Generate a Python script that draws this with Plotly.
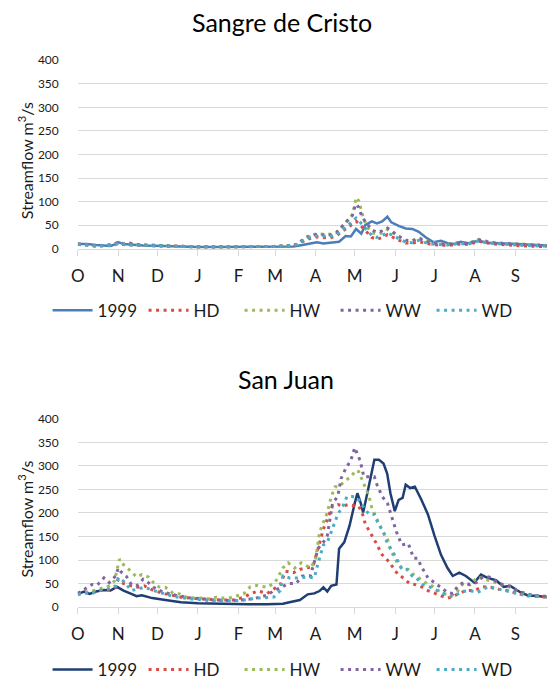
import plotly.graph_objects as go

# ---------------- data ----------------
month_days = [0, 31, 61, 92, 123, 151, 182, 212, 243, 273, 304, 335]
month_labels = ["O", "N", "D", "J", "F", "M", "A", "M", "J", "J", "A", "S"]
series_names = ["1999", "HD", "HW", "WW", "WD"]

# Sangre de Cristo (top)
sdc_1999_days = [0, 7, 14, 21, 25, 29, 31, 35, 40, 50, 66, 74, 92, 110, 130, 150, 160, 165, 172, 178, 183, 188, 193,
                 200, 205, 209, 213, 217, 220, 225, 229, 233, 237, 240, 246, 251, 256, 261, 266, 272, 278, 283, 288,
                 293, 299, 306, 314, 321, 331, 341, 351, 359]
sdc_1999 = [10, 10, 8, 6, 6, 10, 14, 10, 9, 7, 6, 5, 4, 4, 4, 4, 4, 5, 8, 11, 14, 11, 13,
            15, 27, 26, 42, 32, 50, 58, 54, 58, 68, 56, 48, 43, 42, 36, 25, 14, 17, 12, 10,
            15, 12, 17, 13, 12, 10, 8, 7, 7]

sdc_scen_days = [0, 7, 14, 21, 28, 31, 35, 40, 45, 52, 60, 75, 90, 105, 120, 135, 150, 160, 168, 174, 178, 183, 188,
                 193, 198, 203, 207, 210, 212, 213, 215, 217, 219, 222, 225, 229, 233, 237, 241, 246, 251, 256, 261,
                 266, 271, 276, 283, 291, 299, 307, 311, 319, 329, 341, 354, 359]
sdc_hd = [10, 8, 6, 7, 9, 12, 9, 8, 8, 7, 6, 5, 4, 4, 4, 4, 5, 6, 9, 18, 22, 25, 24,
          23, 28, 38, 45, 52, 56, 58, 54, 48, 42, 32, 24, 20, 24, 30, 24, 18, 12, 12, 15,
          12, 9, 8, 7, 10, 9, 16, 13, 10, 8, 6, 5, 5]
sdc_hw = [10, 8, 6, 7, 10, 15, 11, 12, 9, 8, 7, 5, 4, 4, 5, 5, 5, 6, 10, 24, 29, 32, 31,
          31, 34, 48, 62, 71, 93, 109, 102, 83, 62, 45, 34, 31, 34, 41, 34, 24, 17, 17, 24,
          17, 13, 12, 10, 13, 12, 20, 17, 13, 12, 10, 8, 7]
sdc_ww = [10, 8, 6, 7, 9, 13, 10, 11, 9, 8, 7, 5, 4, 4, 4, 5, 5, 6, 9, 22, 27, 30, 29,
          29, 35, 50, 60, 70, 88, 95, 88, 72, 62, 50, 40, 35, 38, 44, 36, 26, 18, 17, 22,
          16, 12, 11, 9, 12, 11, 19, 16, 12, 11, 9, 7, 6]
sdc_wd = [9, 7, 6, 6, 8, 11, 9, 8, 8, 7, 6, 5, 4, 4, 4, 4, 5, 6, 9, 20, 25, 27, 26,
          26, 30, 40, 50, 58, 62, 65, 60, 54, 48, 38, 28, 24, 28, 34, 28, 20, 14, 13, 18,
          13, 10, 9, 8, 11, 10, 17, 14, 11, 9, 7, 6, 5]

# San Juan (bottom)
sj_1999_days = [0, 5, 9, 14, 20, 25, 30, 35, 41, 45, 49, 57, 67, 79, 92, 105, 118, 130, 145, 157, 162, 170, 176,
                181, 185, 188, 191, 194, 198, 200, 204, 208, 212, 214, 216.6, 218.4, 221.6, 224, 227, 230.5, 234,
                236.8, 239.3, 242.6, 245.6, 248.6, 251, 254.4, 258, 263, 268, 273, 278, 283, 287, 292, 297, 303.5,
                308.6, 313.6, 320, 326, 331, 339, 345, 351, 359]
sj_1999 = [28, 33, 28, 33, 36, 35, 43, 35, 28, 23, 25, 19, 15, 10, 8, 7, 6, 6, 6, 7, 10, 15, 27,
           29, 34, 42, 33, 45, 48, 124, 138, 173, 221, 242, 221, 201, 242, 277, 313, 313, 305,
           284, 242, 204, 228, 232, 260, 253, 256, 228, 197, 152, 111, 83, 66, 73, 66, 52,
           69, 62, 57, 43, 45, 31, 24, 24, 21]

sj_hd_days = [0, 5, 10, 16, 24, 29, 31, 35, 41, 46, 51, 58, 67, 79, 90, 100, 110, 120, 128, 132, 138, 145, 150, 155,
              159, 165, 170, 175, 180, 184, 188, 191, 195, 199, 203, 207, 212, 215, 218, 220, 224, 228, 233, 239,
              243, 247, 251, 254, 258, 263, 268, 273, 278, 283, 287, 291, 297, 303, 310, 316, 322, 329, 336, 344,
              351, 359]
sj_hd = [28, 32, 30, 35, 38, 42, 59, 50, 45, 42, 45, 35, 28, 21, 18, 16, 15, 15, 22, 28, 34, 29, 38, 48,
         76, 73, 80, 83, 86, 125, 166, 187, 215, 218, 215, 218, 215, 215, 197, 177, 159, 138, 111, 94,
         76, 66, 57, 50, 48, 43, 35, 29, 24, 19, 22, 28, 35, 35, 43, 42, 38, 35, 29, 24,
         22, 21]

sj_hw_days = [0, 5, 10, 16, 24, 28, 32, 35, 38, 41, 45, 49, 54, 58, 62, 67, 73, 78, 83, 89, 95, 101, 106, 111, 117,
              122, 127, 132, 137, 145, 151, 157, 161, 166, 171, 178, 182, 185, 188, 191, 194, 197, 200, 204, 209,
              213, 215, 219, 223, 225, 229, 233, 237, 240, 244, 248, 253, 257, 261, 266, 271, 276, 281, 286, 290,
              295, 300, 306, 311, 317, 324, 330, 336, 344, 351, 359]
sj_hw = [28, 30, 33, 38, 45, 55, 102, 90, 83, 75, 64, 69, 64, 52, 43, 42, 29, 28, 21, 19, 19, 17, 21, 19, 20,
         24, 28, 43, 46, 42, 52, 83, 94, 83, 94, 83, 100, 159, 180, 201, 235, 256, 256, 267, 277,
         291, 288, 260, 235, 211, 187, 163, 145, 118, 97, 83, 80, 69, 62, 52, 45, 35, 28, 24, 31,
         50, 47, 64, 59, 55, 48, 43, 35, 28, 24, 22]

sj_ww_days = [0, 5, 11, 15, 20, 24, 29, 31, 33, 37, 41, 45, 50, 54, 58, 65, 75, 85, 95, 105, 115, 125, 135, 145,
              150, 156, 161, 167, 172, 178, 184, 188, 191, 195, 199, 201.5, 205, 209, 212, 214, 216, 219, 223, 227,
              229, 233, 237, 239, 242, 244, 248, 253, 257, 260, 263, 268, 273, 278, 283, 287, 291, 295, 300, 305,
              310, 315, 320, 325, 330, 336, 343, 349, 355, 359]
sj_ww = [29, 38, 48, 47, 62, 52, 66, 83, 75, 66, 48, 45, 59, 52, 42, 32, 25, 20, 17, 15, 14, 15, 18, 25,
         35, 42, 50, 50, 66, 66, 125, 138, 152, 221, 235, 273, 294, 312, 339, 327, 312, 277, 277, 277,
         260, 235, 221, 204, 177, 159, 132, 135, 104, 104, 86, 62, 52, 42, 31, 29, 45, 52, 48, 52,
         64, 64, 55, 48, 45, 35, 28, 24, 24, 22]

sj_wd_days = [0, 5, 10, 16, 24, 29, 31, 35, 41, 46, 51, 58, 67, 74, 87, 100, 115, 125, 137, 145, 150, 155, 157, 162,
              169, 176, 181, 184, 188, 191, 195, 199, 203, 206, 210, 214, 218, 223, 227, 230, 234, 237, 240, 244,
              248, 252, 256, 259, 264, 270, 275, 280, 285, 288, 295, 300, 306, 314, 320, 326, 334, 341, 349, 356]
sj_wd = [26, 30, 28, 35, 39, 45, 62, 55, 35, 38, 42, 35, 28, 22, 17, 14, 13, 14, 19, 20, 21, 35, 66, 62,
         62, 64, 62, 94, 132, 138, 166, 197, 215, 235, 235, 232, 215, 197, 197, 177, 159, 135, 121, 104,
         80, 80, 66, 62, 48, 42, 35, 28, 22, 24, 33, 35, 31, 43, 39, 35, 31, 26, 24, 21]

# ---------------- styling ----------------
FONT = "Lato"
colors_top = ["#4A7EBB", "#DA4B43", "#9BBB59", "#8064A2", "#4BACC6"]
colors_bot = ["#1F3E73", "#DA4B43", "#9BBB59", "#8064A2", "#4BACC6"]
DOT = "3px,4.5px"

fig = go.Figure()

top_sets = [(sdc_1999_days, sdc_1999), (sdc_scen_days, sdc_hd), (sdc_scen_days, sdc_hw),
            (sdc_scen_days, sdc_ww), (sdc_scen_days, sdc_wd)]
bot_sets = [(sj_1999_days, sj_1999), (sj_hd_days, sj_hd), (sj_hw_days, sj_hw),
            (sj_ww_days, sj_ww), (sj_wd_days, sj_wd)]

for i, (name, (xd, yd)) in enumerate(zip(series_names, top_sets)):
    solid = i == 0
    fig.add_trace(go.Scatter(
        x=xd, y=yd, mode="lines", name=name, legend="legend",
        xaxis="x", yaxis="y",
        line=dict(color=colors_top[i], width=2.5 if solid else 3, dash="solid" if solid else DOT),
        hoverinfo="skip"))

for i, (name, (xd, yd)) in enumerate(zip(series_names, bot_sets)):
    solid = i == 0
    fig.add_trace(go.Scatter(
        x=xd, y=yd, mode="lines", name=name, legend="legend2",
        xaxis="x2", yaxis="y2",
        line=dict(color=colors_bot[i], width=2.5 if solid else 3, dash="solid" if solid else DOT),
        hoverinfo="skip"))

W, H = 548, 688
x_dom = [71.7 / W, 1.0]
top_dom = [1 - 246.5 / H, 1 - 53.5 / H]
bot_dom = [1 - 613.3 / H, 1 - 420.7 / H]

xaxis_common = dict(
    range=[0, 359.9], tickmode="array", tickvals=month_days, ticktext=month_labels,
    showgrid=False, zeroline=False, showline=True, linecolor="#D9D9D9", linewidth=1,
    ticks="outside", ticklen=6, tickcolor="#D9D9D9", tickwidth=1,
    tickfont=dict(family=FONT, size=17, color="#1a1a1a"), ticklabelstandoff=6,
    domain=x_dom, fixedrange=True)
yaxis_common = dict(
    range=[0, 400], dtick=50, tick0=0, showgrid=True, gridcolor="#D9D9D9", gridwidth=1,
    zeroline=False, showline=False, ticks="",
    tickfont=dict(family=FONT, size=12, color="#1a1a1a"), ticklabelstandoff=18,
    fixedrange=True)

legend_common = dict(
    orientation="h", xanchor="left", yanchor="middle", x=0.075,
    font=dict(family=FONT, size=17, color="#1a1a1a"),
    itemwidth=40, entrywidth=41, entrywidthmode="pixels",
    bgcolor="rgba(0,0,0,0)", borderwidth=0, itemclick=False, itemdoubleclick=False)

fig.update_layout(
    width=W, height=H, margin=dict(l=0, r=0, t=0, b=0),
    paper_bgcolor="white", plot_bgcolor="white",
    font=dict(family=FONT, color="#1a1a1a"),
    xaxis=dict(**xaxis_common, anchor="y"),
    yaxis=dict(**yaxis_common, domain=top_dom, anchor="x"),
    xaxis2=dict(**xaxis_common, anchor="y2"),
    yaxis2=dict(**yaxis_common, domain=bot_dom, anchor="x2"),
    legend=dict(**legend_common, y=1 - 310 / H),
    legend2=dict(**legend_common, y=1 - 678 / H),
    showlegend=True,
    hovermode=False,
)

annotations = [
    dict(text="Sangre de Cristo", x=279 / W, y=1 - 14 / H),
    dict(text="San Juan", x=283 / W, y=1 - 380 / H),
]
for a in annotations:
    fig.add_annotation(xref="paper", yref="paper", xanchor="center", yanchor="middle",
                       showarrow=False, font=dict(family=FONT, size=25, color="#000000"), **a)

for yc in [156, 523]:
    fig.add_annotation(text="Streamflow m<sup>3</sup>/s", xref="paper", yref="paper",
                       x=19 / W, y=1 - yc / H, xanchor="center", yanchor="middle",
                       textangle=-90, showarrow=False,
                       font=dict(family=FONT, size=16, color="#1a1a1a"))

fig.write_html("out.html",
               config={"displayModeBar": False, "staticPlot": False},
               post_script="document.body.style.margin='0';document.body.style.padding='0';"
                           "document.body.style.overflow='hidden';")
